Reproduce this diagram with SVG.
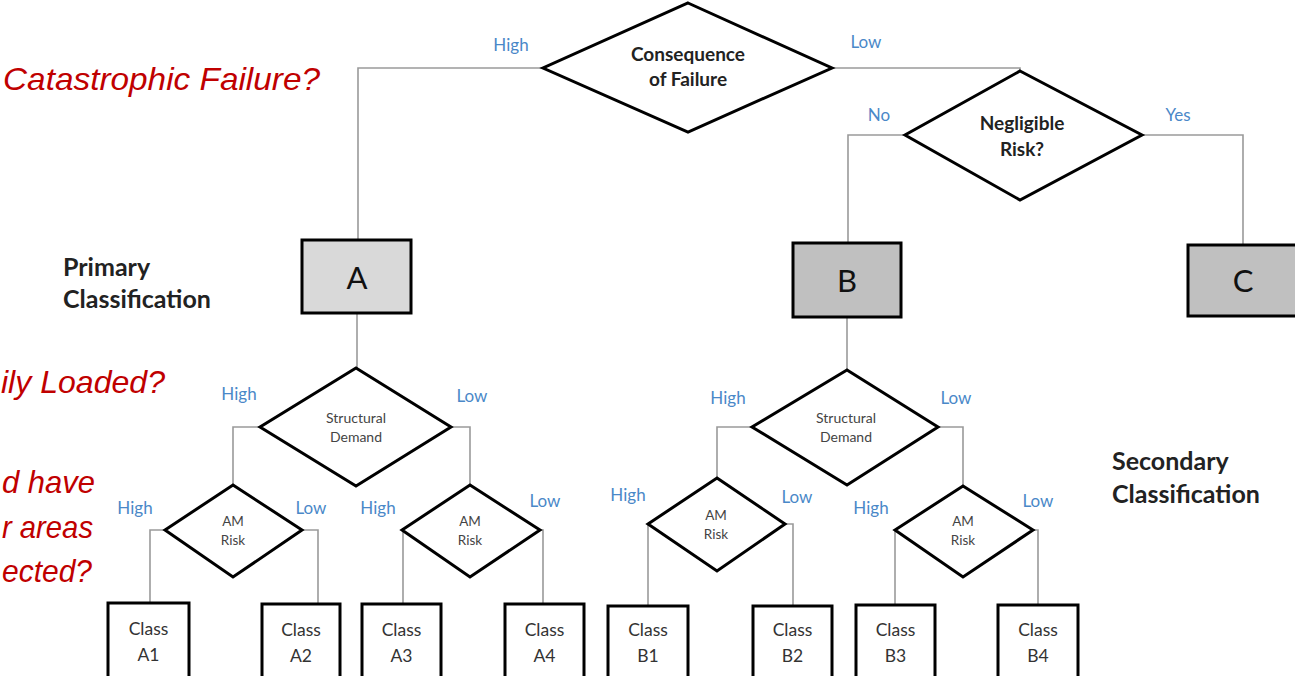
<svg xmlns="http://www.w3.org/2000/svg" width="1295" height="676" viewBox="0 0 1295 676">
<style>
.dia{fill:#fff;stroke:#000;stroke-width:3;stroke-linejoin:miter}
.boxA{fill:#d9d9d9;stroke:#000;stroke-width:3}
.boxB{fill:#c0c0c0;stroke:#000;stroke-width:3}
.cls{fill:#fff;stroke:#000;stroke-width:3}
.con{fill:none;stroke:#9a9a9a;stroke-width:1.6}
.lbl{font-family:Lato,"Liberation Sans",sans-serif;font-size:17px;fill:#4a88c8;text-anchor:middle}
.red{font-family:"Liberation Sans Narrow","Liberation Sans",sans-serif;font-style:italic;fill:#c00000;font-size:32px}
.q1{font-family:Lato,"Liberation Sans",sans-serif;font-weight:bold;font-size:19px;fill:#222;text-anchor:middle}
.q2{font-family:Lato,"Liberation Sans",sans-serif;font-size:14px;fill:#444;text-anchor:middle}
.q3{font-family:Lato,"Liberation Sans",sans-serif;font-size:13.5px;fill:#444;text-anchor:middle}
.big{font-family:Lato,"Liberation Sans",sans-serif;font-size:31px;fill:#111;text-anchor:middle}
.ct{font-family:Lato,"Liberation Sans",sans-serif;font-size:17.5px;fill:#333;text-anchor:middle}
.head{font-family:Lato,"Liberation Sans",sans-serif;font-weight:bold;font-size:25px;fill:#222}
</style>

<g id="annotations">
  <text class="red" x="3" y="90" textLength="317" lengthAdjust="spacingAndGlyphs">Catastrophic Failure?</text>
  <text class="red" x="1" y="393" textLength="164" lengthAdjust="spacingAndGlyphs">ily Loaded?</text>
  <text class="red" x="2" y="493" textLength="93" lengthAdjust="spacingAndGlyphs">d have</text>
  <text class="red" x="2" y="538" textLength="91" lengthAdjust="spacingAndGlyphs">r areas</text>
  <text class="red" x="2" y="582" textLength="90" lengthAdjust="spacingAndGlyphs">ected?</text>
  <text class="head" x="63" y="276">Primary</text>
  <text class="head" x="63" y="308">Classification</text>
  <text class="head" x="1112" y="470">Secondary</text>
  <text class="head" x="1112" y="503">Classification</text>
</g>

<g id="connectors">
  <path class="con" d="M543,68 H358 V240"/>
  <path class="con" d="M832,68 H1020 V70"/>
  <path class="con" d="M905,135 H848 V243"/>
  <path class="con" d="M1142,135 H1243 V245"/>
  <path class="con" d="M357,313 V368"/>
  <path class="con" d="M260,427 H233 V485"/>
  <path class="con" d="M451,427 H470 V485"/>
  <path class="con" d="M165,530 H150 V603"/>
  <path class="con" d="M302,530 H318 V603"/>
  <path class="con" d="M402,530 H403 V603"/>
  <path class="con" d="M540,530 H543 V603"/>
  <path class="con" d="M847,317 V370"/>
  <path class="con" d="M752,427 H717 V478"/>
  <path class="con" d="M938,427 H963 V486"/>
  <path class="con" d="M648,524 V606"/>
  <path class="con" d="M785,524 H793 V606"/>
  <path class="con" d="M895,530 V605"/>
  <path class="con" d="M1033,530 H1038 V605"/>
  <text class="lbl" x="511" y="51">High</text>
  <text class="lbl" x="866" y="48">Low</text>
  <text class="lbl" x="879" y="121">No</text>
  <text class="lbl" x="1178" y="121">Yes</text>
  <text class="lbl" x="239" y="400">High</text>
  <text class="lbl" x="472" y="402">Low</text>
  <text class="lbl" x="135" y="514">High</text>
  <text class="lbl" x="311" y="514">Low</text>
  <text class="lbl" x="378" y="514">High</text>
  <text class="lbl" x="545" y="507">Low</text>
  <text class="lbl" x="728" y="404">High</text>
  <text class="lbl" x="956" y="404">Low</text>
  <text class="lbl" x="628" y="501">High</text>
  <text class="lbl" x="797" y="503">Low</text>
  <text class="lbl" x="871" y="514">High</text>
  <text class="lbl" x="1038" y="507">Low</text>
</g>

<g id="consequence">
  <polygon class="dia" points="688,3 832,68 688,132 543,68"/>
  <text class="q1" x="688" y="61">Consequence</text>
  <text class="q1" x="688" y="86">of Failure</text>
</g>
<g id="negligible">
  <polygon class="dia" points="1020,71 1142,135 1020,200 905,135"/>
  <text class="q1" x="1022" y="130">Negligible</text>
  <text class="q1" x="1022" y="156">Risk?</text>
</g>

<g id="A">
  <rect class="boxA" x="302" y="240" width="109" height="73"/>
  <text class="big" x="357" y="289">A</text>
</g>
<g id="B">
  <rect class="boxB" x="793" y="243" width="108" height="74"/>
  <text class="big" x="847" y="292">B</text>
</g>
<g id="C">
  <rect class="boxB" x="1188" y="245" width="115" height="71"/>
  <text class="big" x="1243" y="292">C</text>
</g>

<g id="structA">
  <polygon class="dia" points="356,368 451,427 356,486 260,427"/>
  <text class="q2" x="356" y="423">Structural</text>
  <text class="q2" x="356" y="442">Demand</text>
</g>
<g id="structB">
  <polygon class="dia" points="847,370 938,427 847,485 752,427"/>
  <text class="q2" x="846" y="423">Structural</text>
  <text class="q2" x="846" y="442">Demand</text>
</g>

<g id="amA1">
  <polygon class="dia" points="233,485 302,530 233,577 165,530"/>
  <text class="q3" x="233" y="526">AM</text>
  <text class="q3" x="233" y="545">Risk</text>
</g>
<g id="amA2">
  <polygon class="dia" points="470,485 540,530 470,577 402,530"/>
  <text class="q3" x="470" y="526">AM</text>
  <text class="q3" x="470" y="545">Risk</text>
</g>
<g id="amB1">
  <polygon class="dia" points="717,478 785,524 717,571 648,524"/>
  <text class="q3" x="716" y="520">AM</text>
  <text class="q3" x="716" y="539">Risk</text>
</g>
<g id="amB2">
  <polygon class="dia" points="963,486 1033,530 963,577 895,530"/>
  <text class="q3" x="963" y="526">AM</text>
  <text class="q3" x="963" y="545">Risk</text>
</g>

<g id="classA1">
  <rect class="cls" x="108" y="603" width="81" height="90"/>
  <text class="ct" x="148.5" y="635">Class</text>
  <text class="ct" x="148.5" y="661">A1</text>
</g>
<g id="classA2">
  <rect class="cls" x="262" y="604" width="78" height="90"/>
  <text class="ct" x="301" y="636">Class</text>
  <text class="ct" x="301" y="662">A2</text>
</g>
<g id="classA3">
  <rect class="cls" x="362" y="604" width="79" height="90"/>
  <text class="ct" x="401.5" y="636">Class</text>
  <text class="ct" x="401.5" y="662">A3</text>
</g>
<g id="classA4">
  <rect class="cls" x="505" y="604" width="79" height="90"/>
  <text class="ct" x="544.5" y="636">Class</text>
  <text class="ct" x="544.5" y="662">A4</text>
</g>
<g id="classB1">
  <rect class="cls" x="608" y="606" width="80" height="90"/>
  <text class="ct" x="648" y="636">Class</text>
  <text class="ct" x="648" y="662">B1</text>
</g>
<g id="classB2">
  <rect class="cls" x="753" y="606" width="79" height="90"/>
  <text class="ct" x="792.5" y="636">Class</text>
  <text class="ct" x="792.5" y="662">B2</text>
</g>
<g id="classB3">
  <rect class="cls" x="856" y="605" width="79" height="90"/>
  <text class="ct" x="895.5" y="636">Class</text>
  <text class="ct" x="895.5" y="662">B3</text>
</g>
<g id="classB4">
  <rect class="cls" x="998" y="605" width="80" height="90"/>
  <text class="ct" x="1038" y="636">Class</text>
  <text class="ct" x="1038" y="662">B4</text>
</g>
</svg>
